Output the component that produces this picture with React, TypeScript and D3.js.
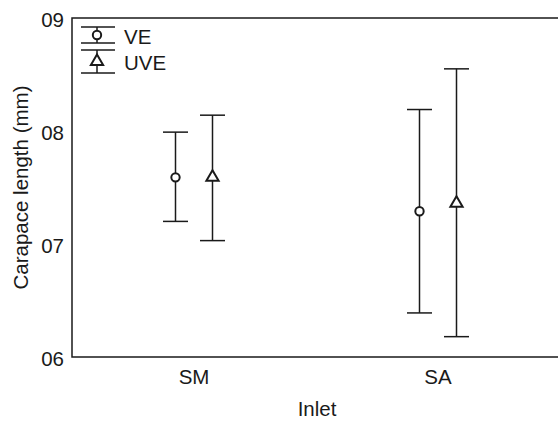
import React, { useEffect, useRef } from 'react';
import * as d3 from 'd3';

const inlets = ['SM', 'SA'];
const groups = ['VE', 'UVE'];
const means = [
  [7.59, 7.59],
  [7.29, 7.36],
];
const uppers = [
  [7.99, 8.14],
  [8.19, 8.55],
];
const lowers = [
  [7.2, 7.03],
  [6.39, 6.18],
];
const yTicks = [6, 7, 8, 9];
const yTickLabels = ['06', '07', '08', '09'];

const font = 'Arial, "Liberation Sans", sans-serif';

const App = () => {
  const svgRef = useRef<SVGSVGElement>(null);

  useEffect(() => {
    const svg = d3.select(svgRef.current);
    svg.selectAll('*').remove();

    const width = 558;
    const height = 421;
    const margin = { top: 18, right: -2, bottom: 64, left: 72 };
    const ink = '#1a1a1a';
    const fs = 20.5;

    const x = d3.scalePoint().domain(inlets).range([margin.left, width - margin.right]).padding(0.5);
    const y = d3.scaleLinear().domain([6, 9]).range([height - margin.bottom, margin.top]);
    const dodge = d3.scalePoint().domain(groups).range([-18.5, 18.5]);

    // frame
    svg.append('path')
      .attr('d', `M${width},${y(9)}H${margin.left}V${y(6)}H${width}`)
      .attr('fill', 'none').attr('stroke', ink).attr('stroke-width', 1.5);

    // y tick labels
    svg.append('g').selectAll('text').data(yTicks).join('text')
      .attr('x', 64).attr('y', d => y(d) + 1)
      .attr('text-anchor', 'end').attr('dominant-baseline', 'central')
      .attr('font-family', font).attr('font-size', fs).attr('fill', ink)
      .text((d, i) => yTickLabels[i]);

    // x tick labels
    svg.append('g').selectAll('text').data(inlets).join('text')
      .attr('x', d => x(d)!).attr('y', 384)
      .attr('text-anchor', 'middle')
      .attr('font-family', font).attr('font-size', fs).attr('fill', ink)
      .text(d => d);

    svg.append('text')
      .attr('x', (margin.left + width) / 2 + 2).attr('y', 416)
      .attr('text-anchor', 'middle')
      .attr('font-family', font).attr('font-size', fs).attr('fill', ink)
      .text('Inlet');

    svg.append('text')
      .attr('transform', `translate(28,${(y(6) + y(9)) / 2}) rotate(-90)`)
      .attr('text-anchor', 'middle')
      .attr('font-family', font).attr('font-size', fs).attr('fill', ink)
      .text('Carapace length (mm)');

    const circle = d3.symbol().type(d3.symbolCircle).size(55);
    const tri = d3.symbol().type(d3.symbolTriangle).size(65);
    const capW = 12.5;

    const drawMarker = (g, gi: number, cx: number, cy: number) => {
      g.append('path')
        .attr('d', gi === 0 ? circle() : tri())
        .attr('transform', `translate(${cx},${cy})`)
        .attr('fill', '#fff').attr('stroke', ink).attr('stroke-width', 2);
    };

    inlets.forEach((inlet, ci) => {
      groups.forEach((grp, gi) => {
        const cx = x(inlet)! + dodge(grp)!;
        const g = svg.append('g');
        g.append('line')
          .attr('x1', cx).attr('x2', cx)
          .attr('y1', y(uppers[ci][gi])).attr('y2', y(lowers[ci][gi]))
          .attr('stroke', ink).attr('stroke-width', 1.5);
        [uppers[ci][gi], lowers[ci][gi]].forEach(v => {
          g.append('line')
            .attr('x1', cx - capW).attr('x2', cx + capW)
            .attr('y1', y(v)).attr('y2', y(v))
            .attr('stroke', ink).attr('stroke-width', 1.5);
        });
        drawMarker(g, gi, cx, y(means[ci][gi]));
      });
    });

    // legend
    const legRows = [[27, 43], [50, 73]];
    const lx = 97;
    groups.forEach((grp, gi) => {
      const [t, b] = legRows[gi];
      const g = svg.append('g');
      g.append('line').attr('x1', lx).attr('x2', lx).attr('y1', t).attr('y2', b)
        .attr('stroke', ink).attr('stroke-width', 1.5);
      [t, b].forEach(v => {
        g.append('line').attr('x1', 81).attr('x2', 115).attr('y1', v).attr('y2', v)
          .attr('stroke', ink).attr('stroke-width', 1.5);
      });
      drawMarker(g, gi, lx, (t + b) / 2);
      g.append('text')
        .attr('x', 124).attr('y', (t + b) / 2 + 1)
        .attr('dominant-baseline', 'central')
        .attr('font-family', font).attr('font-size', fs).attr('fill', ink)
        .text(grp);
    });
  }, []);

  return (
    <svg ref={svgRef} width={558} height={421}
      style={{ position: 'absolute', left: 0, top: 0, background: '#fff' }} />
  );
};

export default App;
